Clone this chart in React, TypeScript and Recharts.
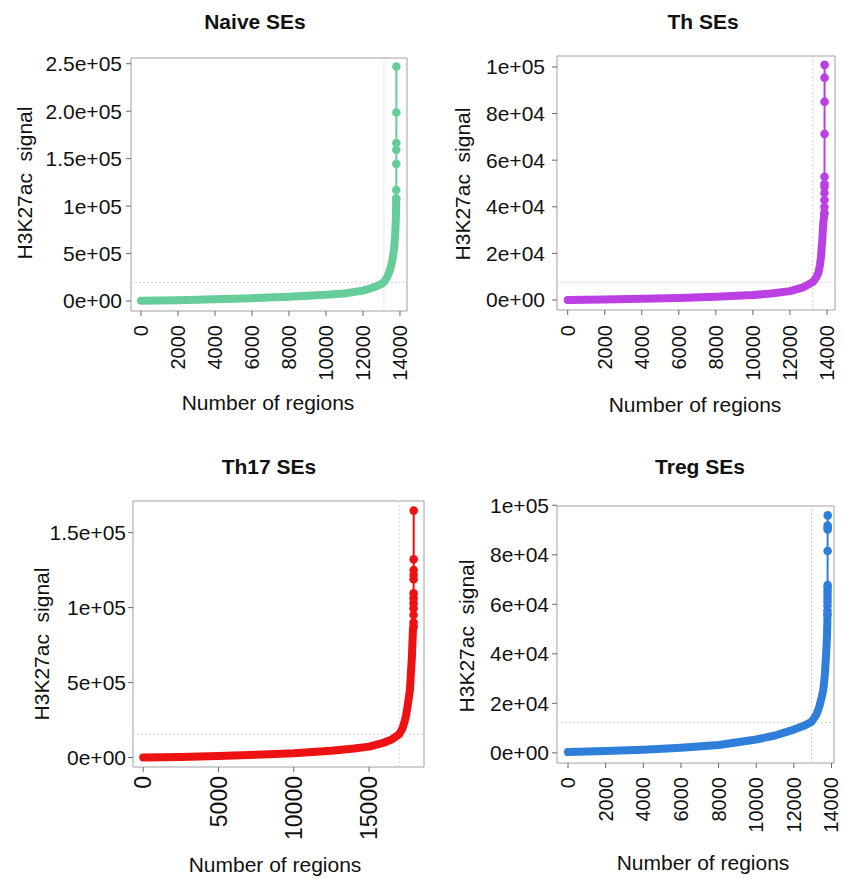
import React from 'react';
import { ComposedChart, Line, XAxis, YAxis, ReferenceLine, ReferenceArea } from 'recharts';

const FONT = '"Liberation Sans", Arial, Helvetica, sans-serif';

type Pt = { rank: number; signal: number };

// ---------- Naive SEs ----------
const naiveCurve: Pt[] = [
  { rank: 0, signal: 300 }, { rank: 2000, signal: 800 }, { rank: 4000, signal: 1800 },
  { rank: 6000, signal: 3000 }, { rank: 8000, signal: 4500 }, { rank: 10000, signal: 6500 },
  { rank: 11000, signal: 8000 }, { rank: 12000, signal: 11000 }, { rank: 12600, signal: 14500 },
  { rank: 13000, signal: 18000 }, { rank: 13135, signal: 20000 }, { rank: 13300, signal: 25000 },
  { rank: 13450, signal: 32000 }, { rank: 13580, signal: 42000 }, { rank: 13680, signal: 55000 },
  { rank: 13740, signal: 70000 }, { rank: 13780, signal: 88000 }, { rank: 13800, signal: 108000 },
];
const naiveTop: Pt[] = [
  { rank: 13800, signal: 108000 }, { rank: 13801, signal: 117000 }, { rank: 13802, signal: 144500 },
  { rank: 13803, signal: 159300 }, { rank: 13804, signal: 166400 }, { rank: 13805, signal: 198600 },
  { rank: 13806, signal: 247000 },
];
const naiveYTicks = [0, 50000, 100000, 150000, 200000, 250000];
const naiveYLabels = ['0e+00', '5e+05', '1e+05', '1.5e+05', '2.0e+05', '2.5e+05'];
const naiveCutoff = { rank: 13135, signal: 19700 };

// ---------- Th SEs ----------
const thCurve: Pt[] = [
  { rank: 0, signal: 0 }, { rank: 2000, signal: 200 }, { rank: 4000, signal: 500 },
  { rank: 6000, signal: 900 }, { rank: 8000, signal: 1400 }, { rank: 10000, signal: 2100 },
  { rank: 11000, signal: 2800 }, { rank: 12000, signal: 3800 }, { rank: 12700, signal: 5400 },
  { rank: 13230, signal: 7700 }, { rank: 13400, signal: 9500 }, { rank: 13530, signal: 11500 },
  { rank: 13620, signal: 15000 }, { rank: 13676, signal: 18600 }, { rank: 13746, signal: 25800 },
  { rank: 13800, signal: 32900 }, { rank: 13860, signal: 37200 },
];
const thTop: Pt[] = [
  { rank: 13860, signal: 37200 }, { rank: 13861, signal: 39900 }, { rank: 13862, signal: 42900 },
  { rank: 13863, signal: 45900 }, { rank: 13864, signal: 48600 }, { rank: 13865, signal: 49800 },
  { rank: 13866, signal: 52900 }, { rank: 13867, signal: 71200 }, { rank: 13868, signal: 85100 },
  { rank: 13869, signal: 95400 }, { rank: 13870, signal: 100900 },
];
const thYTicks = [0, 20000, 40000, 60000, 80000, 100000];
const thYLabels = ['0e+00', '2e+04', '4e+04', '6e+04', '8e+04', '1e+05'];
const thCutoff = { rank: 13227, signal: 7600 };

// ---------- Th17 SEs ----------
const th17Curve: Pt[] = [
  { rank: 0, signal: 0 }, { rank: 2500, signal: 400 }, { rank: 5000, signal: 1000 },
  { rank: 7500, signal: 1800 }, { rank: 10000, signal: 2900 }, { rank: 12500, signal: 4600 },
  { rank: 14000, signal: 6000 }, { rank: 15000, signal: 7300 }, { rank: 16000, signal: 10000 },
  { rank: 16500, signal: 12000 }, { rank: 17000, signal: 15600 }, { rank: 17200, signal: 19000 },
  { rank: 17330, signal: 23000 }, { rank: 17450, signal: 28000 }, { rank: 17550, signal: 34000 },
  { rank: 17710, signal: 45000 }, { rank: 17840, signal: 67000 }, { rank: 17910, signal: 85000 },
  { rank: 17950, signal: 87300 },
];
const th17Top: Pt[] = [
  { rank: 17950, signal: 87300 }, { rank: 17951, signal: 90000 }, { rank: 17952, signal: 95100 },
  { rank: 17953, signal: 99600 }, { rank: 17954, signal: 102900 }, { rank: 17955, signal: 106300 },
  { rank: 17956, signal: 109600 }, { rank: 17957, signal: 118900 }, { rank: 17958, signal: 121800 },
  { rank: 17959, signal: 125100 }, { rank: 17960, signal: 132300 }, { rank: 17961, signal: 164700 },
];
const th17YTicks = [0, 50000, 100000, 150000];
const th17YLabels = ['0e+00', '5e+05', '1e+05', '1.5e+05'];
const th17Cutoff = { rank: 17000, signal: 15600 };

// ---------- Treg SEs ----------
const tregCurve: Pt[] = [
  { rank: 0, signal: 300 }, { rank: 2000, signal: 700 }, { rank: 4000, signal: 1300 },
  { rank: 6000, signal: 2100 }, { rank: 8000, signal: 3200 }, { rank: 10000, signal: 5400 },
  { rank: 11000, signal: 7000 }, { rank: 12000, signal: 9400 }, { rank: 12500, signal: 10800 },
  { rank: 12940, signal: 12500 }, { rank: 13200, signal: 15500 }, { rank: 13350, signal: 18600 },
  { rank: 13480, signal: 22500 }, { rank: 13564, signal: 25300 }, { rank: 13650, signal: 32000 },
  { rank: 13707, signal: 38800 }, { rank: 13760, signal: 47000 }, { rank: 13777, signal: 52300 },
  { rank: 13785, signal: 56000 },
];
const tregTop: Pt[] = [
  { rank: 13785, signal: 56000 }, { rank: 13786, signal: 57500 }, { rank: 13787, signal: 59500 },
  { rank: 13788, signal: 61000 }, { rank: 13789, signal: 62500 }, { rank: 13790, signal: 64000 },
  { rank: 13791, signal: 65500 }, { rank: 13792, signal: 67000 }, { rank: 13793, signal: 67800 },
  { rank: 13794, signal: 81500 }, { rank: 13795, signal: 90200 }, { rank: 13796, signal: 91000 },
  { rank: 13797, signal: 91800 }, { rank: 13798, signal: 95900 },
];
const tregYTicks = thYTicks;
const tregYLabels = thYLabels;
const tregCutoff = { rank: 12936, signal: 12300 };

const xTicks14k = [0, 2000, 4000, 6000, 8000, 10000, 12000, 14000];
const xTicks15k = [0, 5000, 10000, 15000];

const yTitle = 'H3K27ac  signal';
const xTitle = 'Number of regions';

type Layout = {
  L: number; T: number; W: number; H: number;
  pl: number; pt: number; pr: number; pb: number;
  xDomain: [number, number]; yDomain: [number, number];
  yTickMargin: number; xTickMargin: number; xTickFont: number;
  titleC: [number, number]; yTitleC: [number, number]; xTitleC: [number, number];
};

type PanelProps = {
  title: string; color: string; curve: Pt[]; top: Pt[];
  xTicks: number[]; yTicks: number[]; yLabels: string[];
  cutoff: { rank: number; signal: number }; lay: Layout;
};

const AxisTitle = (props: any) => {
  const { tx, ty, txt, rot } = props;
  return (
    <text
      x={tx}
      y={ty}
      dy="0.35em"
      textAnchor="middle"
      transform={rot ? `rotate(-90, ${tx}, ${ty})` : undefined}
      fontFamily={FONT}
      fontSize={21}
      fill="#111"
      style={{ whiteSpace: 'pre' }}
    >
      {txt}
    </text>
  );
};

const RotTick = (props: any) => {
  const { x, y, payload, fs } = props;
  return (
    <text
      x={x}
      y={y}
      dy="0.35em"
      textAnchor="end"
      transform={`rotate(-90, ${x}, ${y})`}
      fontFamily={FONT}
      fontSize={fs}
      fill="#111"
    >
      {String(payload.value)}
    </text>
  );
};

const Panel = ({ title, color, curve, top, xTicks, yTicks, yLabels, cutoff, lay }: PanelProps) => {
  const yw = lay.pl - lay.L;
  const xh = lay.T + lay.H - lay.pb;
  const margin = { top: lay.pt - lay.T, right: lay.L + lay.W - lay.pr, left: 0, bottom: 0 };
  const fmt = (v: number) => {
    const i = yTicks.indexOf(v);
    return i >= 0 ? yLabels[i] : String(v);
  };
  return (
    <>
      <div
        style={{
          position: 'absolute',
          left: lay.titleC[0] - 150,
          top: lay.titleC[1] - 13,
          width: 300,
          height: 26,
          lineHeight: '26px',
          textAlign: 'center',
          fontFamily: FONT,
          fontWeight: 'bold',
          fontSize: 21,
          color: '#111',
        }}
      >
        {title}
      </div>
      <div style={{ position: 'absolute', left: lay.L, top: lay.T, width: lay.W, height: lay.H }}>
        <ComposedChart width={lay.W} height={lay.H} margin={margin}>
          <XAxis
            type="number"
            dataKey="rank"
            domain={lay.xDomain}
            allowDataOverflow
            ticks={xTicks}
            interval={0}
            height={xh}
            axisLine={false}
            tickLine={{ stroke: '#666' }}
            tickSize={5}
            tickMargin={lay.xTickMargin}
            tick={(p: any) => <RotTick {...p} fs={lay.xTickFont} />}
            label={<AxisTitle tx={lay.xTitleC[0] - lay.L} ty={lay.xTitleC[1] - lay.T} txt={xTitle} rot={false} />}
          />
          <YAxis
            type="number"
            dataKey="signal"
            domain={lay.yDomain}
            allowDataOverflow
            ticks={yTicks}
            interval={0}
            width={yw}
            axisLine={false}
            tickLine={{ stroke: '#666' }}
            tickSize={5}
            tickMargin={lay.yTickMargin}
            tickFormatter={fmt}
            tick={{ fontFamily: FONT, fontSize: 21, fill: '#111' }}
            label={<AxisTitle tx={lay.yTitleC[0] - lay.L} ty={lay.yTitleC[1] - lay.T} txt={yTitle} rot={true} />}
          />
          <ReferenceArea
            x1={lay.xDomain[0]}
            x2={lay.xDomain[1]}
            y1={lay.yDomain[0]}
            y2={lay.yDomain[1]}
            fill="none"
            fillOpacity={0}
            stroke="#a0a0a0"
            strokeWidth={1}
          />
          <ReferenceLine x={cutoff.rank} stroke="#d4d4d4" strokeDasharray="2 2" />
          <ReferenceLine y={cutoff.signal} stroke="#d4d4d4" strokeDasharray="2 2" />
          <Line
            data={curve}
            dataKey="signal"
            type="linear"
            stroke={color}
            strokeWidth={8}
            strokeLinecap="round"
            strokeLinejoin="round"
            dot={false}
            activeDot={false}
            isAnimationActive={false}
          />
          <Line
            data={top}
            dataKey="signal"
            type="linear"
            stroke={color}
            strokeWidth={2}
            dot={{ r: 4.3, fill: color, stroke: color, strokeWidth: 0 }}
            activeDot={false}
            isAnimationActive={false}
          />
        </ComposedChart>
      </div>
    </>
  );
};

const naiveLay: Layout = {
  L: 0, T: 0, W: 430, H: 425, pl: 131, pt: 58, pr: 407, pb: 311,
  xDomain: [-540, 14380], yDomain: [-10500, 256000],
  yTickMargin: 4, xTickMargin: 9, xTickFont: 20,
  titleC: [255, 22], yTitleC: [25, 183], xTitleC: [268, 403],
};
const thLay: Layout = {
  L: 430, T: 0, W: 413, H: 425, pl: 557, pt: 56, pr: 835, pb: 310,
  xDomain: [-578, 14432], yDomain: [-4300, 104700],
  yTickMargin: 7, xTickMargin: 10, xTickFont: 20,
  titleC: [703, 22], yTitleC: [463, 184], xTitleC: [695, 405],
};
const th17Lay: Layout = {
  L: 0, T: 430, W: 430, H: 449, pl: 133, pt: 501, pr: 424, pb: 767,
  xDomain: [-677, 18645], yDomain: [-6300, 171100],
  yTickMargin: 2, xTickMargin: 4, xTickFont: 23,
  titleC: [269, 467], yTitleC: [42, 644], xTitleC: [275, 865],
};
const tregLay: Layout = {
  L: 430, T: 430, W: 413, H: 449, pl: 557, pt: 506, pr: 834, pb: 763,
  xDomain: [-585, 14133], yDomain: [-4100, 99700],
  yTickMargin: 3, xTickMargin: 9, xTickFont: 20,
  titleC: [700, 467], yTitleC: [467, 636], xTitleC: [703, 863],
};

export default function App() {
  return (
    <div style={{ position: 'absolute', left: 0, top: 0, width: 843, height: 879, background: '#fff' }}>
      <Panel title="Naive SEs" color="#66CC9A" curve={naiveCurve} top={naiveTop}
        xTicks={xTicks14k} yTicks={naiveYTicks} yLabels={naiveYLabels} cutoff={naiveCutoff} lay={naiveLay} />
      <Panel title="Th SEs" color="#BB3FE3" curve={thCurve} top={thTop}
        xTicks={xTicks14k} yTicks={thYTicks} yLabels={thYLabels} cutoff={thCutoff} lay={thLay} />
      <Panel title="Th17 SEs" color="#EE1111" curve={th17Curve} top={th17Top}
        xTicks={xTicks15k} yTicks={th17YTicks} yLabels={th17YLabels} cutoff={th17Cutoff} lay={th17Lay} />
      <Panel title="Treg SEs" color="#2F7FDA" curve={tregCurve} top={tregTop}
        xTicks={xTicks14k} yTicks={tregYTicks} yLabels={tregYLabels} cutoff={tregCutoff} lay={tregLay} />
    </div>
  );
}
